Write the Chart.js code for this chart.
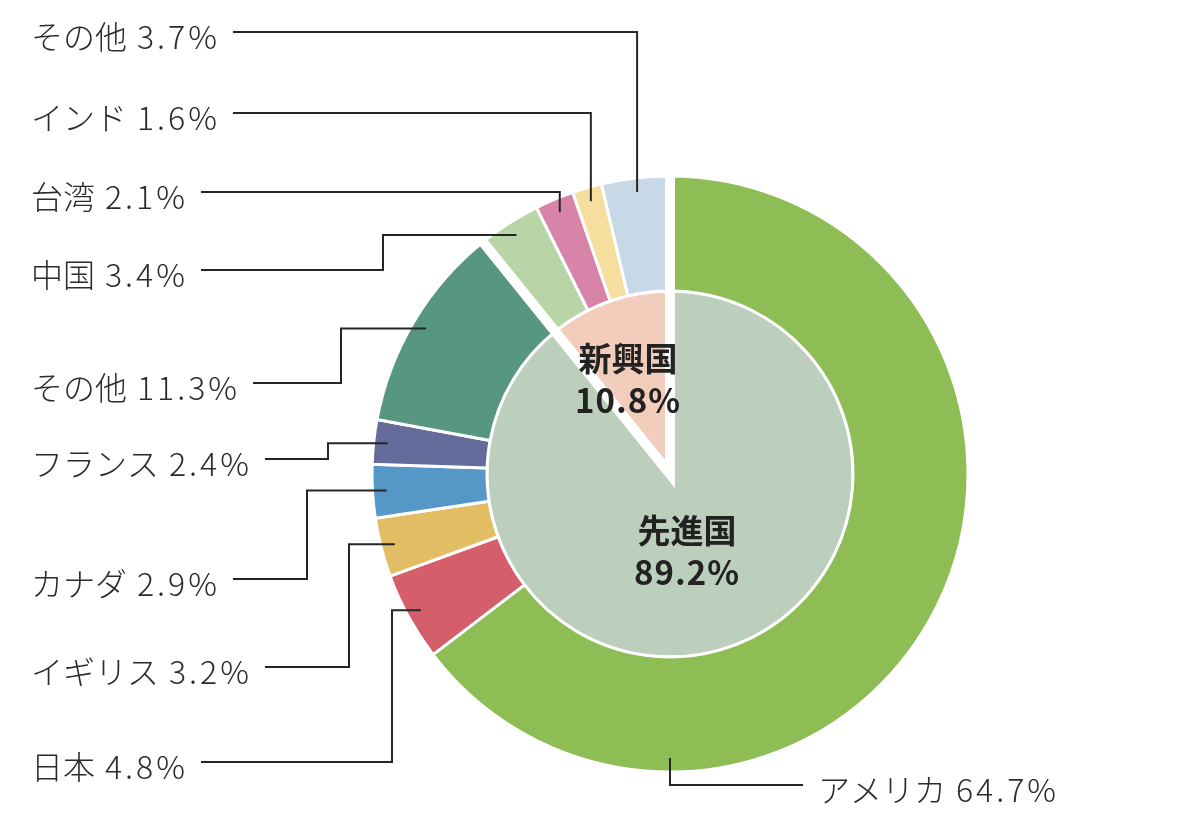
<!DOCTYPE html>
<html lang="ja">
<head>
<meta charset="utf-8">
<title>先進国・新興国の内訳</title>
<script src="https://cdn.jsdelivr.net/npm/chart.js@4.4.1/dist/chart.umd.min.js"></script>
<style>
  html, body { margin: 0; padding: 0; background: #fff; }
  #wrap { position: relative; width: 1200px; height: 832px; }
</style>
</head>
<body>
<div id="wrap"><canvas id="chart"></canvas></div>
<script>
// 外側：国・地域別
const countryLabels = ['アメリカ', '日本', 'イギリス', 'カナダ', 'フランス', 'その他', '中国', '台湾', 'インド', 'その他'];
const countryValues = [64.7, 4.8, 3.2, 2.9, 2.4, 11.3, 3.4, 2.1, 1.6, 3.7];
const countryColors = ['#8FBD55', '#D45F6B', '#E3BD63', '#5597C6', '#646C9B', '#57967F', '#B8D5A7', '#D884A9', '#F6DE9F', '#C7D9E7'];

// 内側：先進国／新興国
const groupLabels = ['先進国', '新興国'];
const groupValues = [89.2, 10.8];
const groupColors = ['#BCCEBC', '#F2CDBC'];

// 引き出し線とラベルの配置（描画用）
const leaderLayout = [
  { lineY: 785, textX: 818, side: 'right', angle: Math.PI / 2 },
  { lineY: 762, textX: 31, elbowX: 392 },
  { lineY: 667, textX: 31, elbowX: 349 },
  { lineY: 579, textX: 31, elbowX: 307 },
  { lineY: 459, textX: 31, elbowX: 328 },
  { lineY: 383, textX: 31, elbowX: 341 },
  { lineY: 270, textX: 31, elbowX: 383 },
  { lineY: 192, textX: 31 },
  { lineY: 113, textX: 31 },
  { lineY: 32, textX: 31 },
];
const centerLayout = [
  { dx: 17, dy: 56 },
  { dx: -42, dy: -116 },
];

const labelFont = '300 32px "Noto Sans CJK JP", "Noto Sans", sans-serif';
const centerFont = 'bold 33px "Noto Sans CJK JP", "Noto Sans", sans-serif';

const leaderPlugin = {
  id: 'leaders',
  afterDatasetsDraw(chart) {
    const ctx = chart.ctx;
    const outer = chart.getDatasetMeta(0).data;
    const inner = chart.getDatasetMeta(1).data;
    const cx = inner[0].x;
    const cy = inner[0].y;
    const R = outer[0].outerRadius;

    ctx.save();

    // 新興国グループの境目を太い白線で切り離す
    const a1 = inner[1].startAngle;
    const a2 = inner[1].endAngle;
    ctx.strokeStyle = '#fff';
    ctx.lineWidth = 10;
    ctx.lineJoin = 'miter';
    ctx.miterLimit = 10;
    ctx.beginPath();
    ctx.moveTo(cx + Math.cos(a1) * (R + 4), cy + Math.sin(a1) * (R + 4));
    ctx.lineTo(cx, cy);
    ctx.lineTo(cx + Math.cos(a2) * (R + 4), cy + Math.sin(a2) * (R + 4));
    ctx.stroke();

    // 引き出し線とラベル
    ctx.font = labelFont;
    ctx.textBaseline = 'middle';
    ctx.textAlign = 'left';
    outer.forEach((arc, i) => {
      const lay = leaderLayout[i];
      const mid = lay.angle !== undefined ? lay.angle : (arc.startAngle + arc.endAngle) / 2;
      const r = arc.outerRadius - 14;
      const ax = cx + Math.cos(mid) * r;
      const ay = cy + Math.sin(mid) * r;

      const name = countryLabels[i];
      const value = countryValues[i].toFixed(1) + '%';
      ctx.letterSpacing = '0px';
      const nameW = ctx.measureText(name).width;
      ctx.letterSpacing = '3px';
      const valueW = ctx.measureText(value).width - 3;
      const valueX = lay.textX + nameW + 10;
      const textEnd = valueX + valueW;

      const ex = lay.elbowX !== undefined ? lay.elbowX : ax;
      const endX = lay.side === 'right' ? lay.textX - 15 : textEnd + 16;

      ctx.strokeStyle = '#262626';
      ctx.lineWidth = 2;
      ctx.lineJoin = 'miter';
      ctx.beginPath();
      ctx.moveTo(ax, ay);
      ctx.lineTo(ex, ay);
      ctx.lineTo(ex, lay.lineY);
      ctx.lineTo(endX, lay.lineY);
      ctx.stroke();

      ctx.fillStyle = '#2b2b2b';
      ctx.letterSpacing = '0px';
      ctx.fillText(name, lay.textX, lay.lineY + 5);
      ctx.letterSpacing = '3px';
      ctx.fillText(value, valueX, lay.lineY + 5);
    });
    ctx.letterSpacing = '0px';

    // 中央のラベル
    ctx.font = centerFont;
    ctx.textAlign = 'center';
    ctx.fillStyle = '#222';
    inner.forEach((arc, i) => {
      const p = centerLayout[i];
      ctx.fillText(groupLabels[i], cx + p.dx, cy + p.dy);
      ctx.letterSpacing = '1px';
      ctx.fillText(groupValues[i].toFixed(1) + '%', cx + p.dx, cy + p.dy + 42);
      ctx.letterSpacing = '0px';
    });

    ctx.restore();
  }
};

new Chart(document.getElementById('chart'), {
  type: 'doughnut',
  data: {
    labels: countryLabels,
    datasets: [
      {
        data: countryValues,
        backgroundColor: countryColors,
        borderColor: '#fff',
        borderWidth: 3,
        weight: 115,
      },
      {
        data: groupValues,
        backgroundColor: groupColors,
        borderColor: '#fff',
        borderWidth: 3,
        weight: 183,
      },
    ],
  },
  options: {
    responsive: true,
    maintainAspectRatio: false,
    animation: false,
    events: [],
    cutout: 0,
    radius: 298,
    layout: { padding: { left: 140, right: 0, top: 116, bottom: 0 } },
    plugins: {
      legend: { display: false },
      tooltip: { enabled: false },
    },
  },
  plugins: [leaderPlugin],
});
</script>
</body>
</html>
